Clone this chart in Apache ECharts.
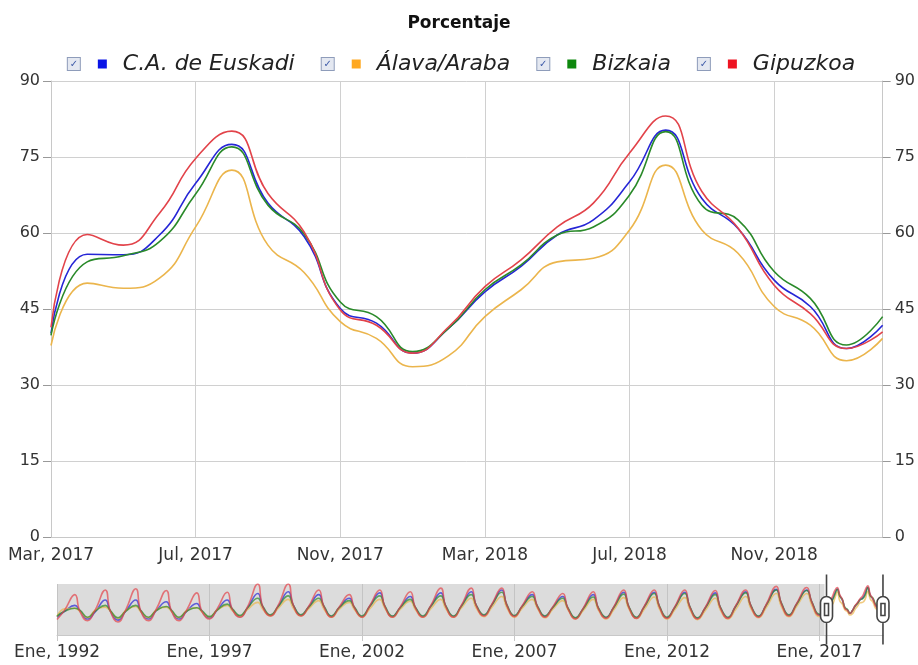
<!DOCTYPE html>
<html><head><meta charset="utf-8">
<script src="https://cdn.jsdelivr.net/npm/echarts@6/dist/echarts.min.js"></script>
<style>html,body{margin:0;padding:0;background:#fff}#c{width:918px;height:665px}</style>
</head><body><div id="c"></div>
<script>
// ---- categories ----
const monthNames = ['Ene','Feb','Mar','Abr','May','Jun','Jul','Ago','Sep','Oct','Nov','Dic'];
const firstYear = 1992;
const lastYear = 2019;
const lastMonthIndex = 1; // Feb 2019
const seriesNames = ['C.A. de Euskadi', 'Álava/Araba', 'Bizkaia', 'Gipuzkoa'];

// ---- monthly values shown in the main window: Mar 2017 .. Feb 2019 ----
const euskadiRecent  = [40.2,55.8,55.7,59.6,69.8,77.5,65.9,59.3,45.1,42.2,36.3,41.2,48.4,53.4,59.6,62.6,70.1,80.3,66.8,60.9,50.7,45.5,37.2,41.8];
const alavaRecent    = [37.8,50.1,49.1,51.1,61.2,72.4,57.6,52.2,42.5,39.2,33.6,35.8,43.5,48.8,54.3,55.0,60.6,73.4,60.6,56.0,45.5,41.8,34.8,39.2];
const bizkaiaRecent  = [39.8,54.3,55.5,58.3,67.7,77.0,65.5,59.8,46.4,43.5,36.6,41.2,48.8,53.7,59.6,61.2,67.5,80.0,65.5,62.6,52.4,47.1,37.9,43.5];
const gipuzkoaRecent = [41.4,59.7,57.6,63.9,74.7,80.1,67.8,60.2,44.8,41.8,36.3,41.5,49.4,54.7,61.2,65.9,75.8,83.1,68.2,61.0,49.7,44.1,37.2,40.5];

// ---- overview (1992-2016), values read at key months: Ene, Abr, Ago, Oct ----
const keyMonths = [0, 3, 7, 9];
const euskadiHist = [
 [30,40,50,41],[27,39,59,40],[25,40,59,40],[27,41,56,41],[27,40,53,40],
 [29,42,59,43],[31,46,70,47],[33,48,73,50],[33,47,68,48],[31,46,62,46],
 [31,48,71,48],[31,46,65,46],[31,48,71,48],[31,48,73,49],[33,50,76,50],
 [32,48,68,48],[31,46,65,45],[28,44,68,45],[29,46,72,47],[29,47,72,48],
 [29,46,72,47],[28,45,71,46],[29,48,73,49],[31,50,77,53],[33,52,76,55]];
const alavaHist = [
 [31,44,45,40],[29,42,47,40],[28,41,48,39],[29,42,47,40],[29,41,46,39],
 [30,42,50,41],[31,43,55,43],[32,45,60,45],[32,44,58,44],[30,43,55,43],
 [30,44,60,45],[30,43,57,43],[30,44,60,44],[30,45,62,45],[31,46,65,46],
 [30,45,60,45],[29,43,58,43],[27,41,60,42],[27,42,63,44],[28,43,64,44],
 [27,42,63,43],[26,41,62,42],[27,43,65,45],[29,46,70,48],[31,48,70,50]];
const bizkaiaHist = [
 [32,40,45,42],[30,40,50,41],[29,40,50,41],[30,41,48,42],[30,40,46,41],
 [31,42,52,44],[33,46,62,48],[34,48,66,50],[34,47,62,49],[32,46,58,47],
 [32,48,66,49],[32,46,60,47],[32,48,66,49],[32,48,68,50],[34,50,72,51],
 [33,48,65,49],[32,46,62,46],[29,44,64,46],[30,46,69,48],[30,47,70,49],
 [30,46,70,48],[29,45,68,47],[30,48,71,50],[32,50,76,54],[34,52,75,56]];
const gipuzkoaHist = [
 [26,42,68,40],[24,42,76,40],[22,42,78,40],[24,43,75,41],[24,42,71,40],
 [27,44,72,43],[30,48,86,47],[32,50,86,50],[32,48,76,48],[30,47,68,46],
 [30,49,76,48],[30,47,73,46],[30,49,79,48],[30,49,79,49],[32,51,79,50],
 [31,49,73,48],[30,47,70,45],[27,45,73,45],[28,47,76,47],[28,48,76,48],
 [28,47,76,47],[27,46,75,46],[28,49,76,49],[30,51,82,53],[32,53,80,55]];
const jan2017 = [34, 31, 35, 33]; // Ene 2017 for each series

// ---- colours ----
const lineColors = ['#2626d6', '#ebb54c', '#2a8a2a', '#e2434a'];
const squareColors = ['#0a14e6', '#ffa820', '#0e880e', '#ee1422'];

// ---- build categories and full series ----
const categories = [];
for (let y = firstYear; y <= lastYear; y++) {
  for (let m = 0; m < 12; m++) {
    if (y === lastYear && m > lastMonthIndex) break;
    categories.push(monthNames[m] + ', ' + y);
  }
}
const N = categories.length;
const recentStart = N - euskadiRecent.length;
function buildSeries(hist, janVal, recent) {
  const arr = new Array(N).fill(null);
  hist.forEach((vals, yi) => {
    keyMonths.forEach((m, k) => { arr[yi * 12 + m] = vals[k]; });
  });
  arr[(2017 - firstYear) * 12] = janVal;
  recent.forEach((v, i) => { arr[recentStart + i] = v; });
  return arr;
}
const fullData = [
  buildSeries(euskadiHist, jan2017[0], euskadiRecent),
  buildSeries(alavaHist, jan2017[1], alavaRecent),
  buildSeries(bizkaiaHist, jan2017[2], bizkaiaRecent),
  buildSeries(gipuzkoaHist, jan2017[3], gipuzkoaRecent)
];

const FONT = 'DejaVu Sans';
const labelShown = (i) => { const m = i % 12; return m === 2 || m === 6 || m === 10; };
const overviewShown = (i) => i % 60 === 0;

const rich = {
  cb: { width: 12, height: 12, lineHeight: 14, borderColor: '#8e9cba', borderWidth: 1, backgroundColor: '#e4e8f1',
        color: '#3d5aa8', fontSize: 10, align: 'center', fontFamily: FONT, fontStyle: 'normal' },
  g1: { width: 18 },
  g2: { width: 16 },
  t: { fontSize: 22, fontStyle: 'italic', fontFamily: FONT, color: '#222' }
};
squareColors.forEach((c, i) => { rich['sq' + i] = { width: 9, height: 9, backgroundColor: c }; });

const mainSeries = seriesNames.map((name, i) => ({
  name, type: 'line', xAxisIndex: 0, yAxisIndex: 0,
  data: fullData[i], smooth: true, connectNulls: true, showSymbol: false,
  lineStyle: { color: lineColors[i], width: 1.6 }, itemStyle: { color: lineColors[i] },
  emphasis: { disabled: true }
}));
const overviewSeries = seriesNames.map((name, i) => ({
  name: name + ' (resumen)', type: 'line', xAxisIndex: 1, yAxisIndex: 2,
  data: fullData[i], smooth: true, connectNulls: true, showSymbol: false, silent: true,
  lineStyle: { color: lineColors[i], width: 1.6, opacity: 0.7 },
  markArea: i === 0 ? { silent: true, itemStyle: { color: '#ffffff' },
    data: [[{ xAxis: categories[recentStart] }, { xAxis: categories[N - 1] }]] } : undefined
}));

const chart = echarts.init(document.getElementById('c'), null, { renderer: 'canvas' });
chart.setOption({
  animation: false,
  backgroundColor: '#ffffff',
  title: { text: 'Porcentaje', left: 'center', top: 10,
    textStyle: { fontSize: 17, fontWeight: 'bold', fontFamily: FONT, color: '#111' } },
  legend: {
    data: seriesNames, top: 48, left: 'center', icon: 'none', itemWidth: 0, itemHeight: 12, itemGap: 22,
    selectedMode: false,
    formatter: (name) => { const i = seriesNames.indexOf(name); return '{cb|✓}{g1|}{sq' + i + '|}{g2|}{t|' + name + '}'; },
    textStyle: { fontSize: 22, fontStyle: 'italic', fontFamily: FONT, rich }
  },
  grid: [
    { left: 51, right: 34, top: 81, bottom: 128, containLabel: false },
    { left: 57, right: 35, top: 584, height: 51, show: true, backgroundColor: '#dcdcdc', borderWidth: 0 }
  ],
  xAxis: [
    { type: 'category', gridIndex: 0, data: categories, boundaryGap: false,
      axisLine: { show: true, lineStyle: { color: '#c8c8c8' } },
      axisTick: { show: false },
      axisLabel: { interval: labelShown, color: '#333', fontSize: 17, fontFamily: FONT, margin: 10 },
      splitLine: { show: true, interval: labelShown, lineStyle: { color: '#d0d0d0', width: 1 } } },
    { type: 'category', gridIndex: 1, data: categories, boundaryGap: false,
      axisLine: { show: true, lineStyle: { color: '#c8c8c8' } },
      axisTick: { show: true, interval: overviewShown, length: 6, lineStyle: { color: '#c8c8c8' } },
      axisLabel: { interval: overviewShown, color: '#333', fontSize: 17, fontFamily: FONT, margin: 9 },
      splitLine: { show: true, interval: overviewShown, lineStyle: { color: '#c4c4c4', width: 1 } } }
  ],
  yAxis: [
    { type: 'value', gridIndex: 0, min: 0, max: 90, interval: 15, position: 'left',
      axisLine: { show: true, lineStyle: { color: '#c8c8c8' } },
      axisTick: { show: true, length: 8, lineStyle: { color: '#999' } },
      axisLabel: { color: '#333', fontSize: 16, fontFamily: FONT, margin: 11 },
      splitLine: { show: true, lineStyle: { color: '#d0d0d0', width: 1 } } },
    { type: 'value', gridIndex: 0, min: 0, max: 90, interval: 15, position: 'right',
      axisLine: { show: true, lineStyle: { color: '#c8c8c8' } },
      axisTick: { show: true, length: 8, lineStyle: { color: '#999' } },
      axisLabel: { color: '#333', fontSize: 16, fontFamily: FONT, margin: 12 },
      splitLine: { show: false } },
    { type: 'value', gridIndex: 1, min: 0, max: 'dataMax', show: false, splitLine: { show: false } }
  ],
  dataZoom: [{
    type: 'slider', xAxisIndex: 0, filterMode: 'filter',
    startValue: recentStart, endValue: N - 1,
    left: 57, right: 35, top: 584, height: 51,
    showDataShadow: false, showDetail: false, brushSelect: false,
    backgroundColor: 'rgba(0,0,0,0)', fillerColor: 'rgba(0,0,0,0)', borderColor: 'rgba(0,0,0,0)',
    handleIcon: 'path://M6,0V22M6,48V70M0,28a6,6,0,0,1,12,0v14a6,6,0,0,1,-12,0Z M4,29h4v12h-4Z',
    handleSize: '137%',
    handleStyle: { color: '#ffffff', borderColor: '#444', borderWidth: 1.6 },
    emphasis: { handleStyle: { color: '#ffffff', borderColor: '#444' } }
  }],
  series: overviewSeries.concat(mainSeries)
});
</script>
</body></html>
